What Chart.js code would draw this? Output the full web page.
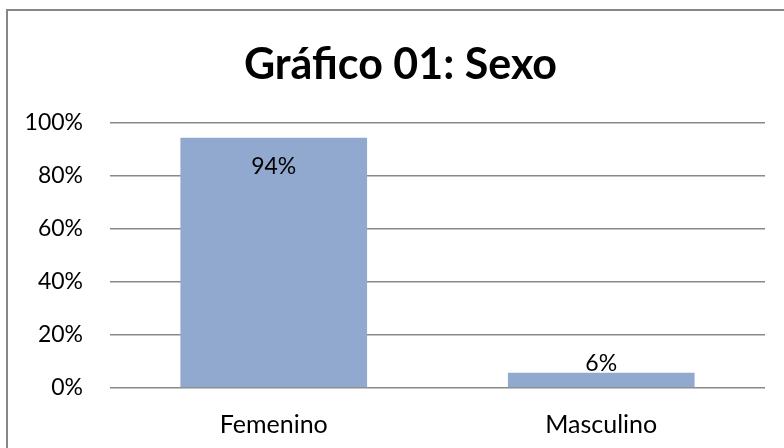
<!DOCTYPE html>
<html>
<head>
<meta charset="utf-8">
<script src="https://cdn.jsdelivr.net/npm/chart.js@4"></script>
<style>
    html, body { margin: 0; padding: 0; background: #fff; overflow: hidden; }
    #wrap { position: relative; width: 784px; height: 448px; }
    #frame {
        position: absolute; left: 6px; top: 9px; width: 900px; height: 600px;
        border-top: 2px solid #878787; border-left: 2px solid #878787;
        pointer-events: none;
    }
    canvas { position: absolute; left: 0; top: 0; }
</style>
</head>
<body>
<div id="wrap">
    <canvas id="sexoChart" width="784" height="448"></canvas>
    <div id="frame"></div>
</div>
<script>
// Chart data
const categories = ['Femenino', 'Masculino'];
const percentValues = [94.3, 5.7];
const yTicks = [0, 20, 40, 60, 80, 100];

const FONT = 'Lato, "Open Sans", sans-serif';

// Draws the % labels on the bars (inside the bar if it would not fit above)
const barLabels = {
    id: 'barLabels',
    afterDatasetsDraw(chart) {
        const ctx = chart.ctx;
        const meta = chart.getDatasetMeta(0);
        ctx.save();
        ctx.font = '23px ' + FONT;
        ctx.fillStyle = '#000';
        ctx.textAlign = 'center';
        ctx.textBaseline = 'middle';
        meta.data.forEach((bar, i) => {
            const text = Math.round(percentValues[i]) + '%';
            let y = bar.y - 9;
            if (y - 12 < chart.chartArea.top) {
                y = bar.y + 29;
            }
            ctx.fillText(text, bar.x, y);
        });
        ctx.restore();
    }
};

// The original frame is a bit wider than the picture, so the title sits right of centre
const shiftTitle = {
    id: 'shiftTitle',
    afterLayout(chart) {
        const t = chart.titleBlock;
        if (t) { t.left += 18; t.right += 18; }
    }
};

const ctx = document.getElementById('sexoChart').getContext('2d');
new Chart(ctx, {
    type: 'bar',
    data: {
        labels: categories,
        datasets: [{
            data: percentValues,
            backgroundColor: '#91a9cf',
            borderWidth: 0,
            categoryPercentage: 1,
            barPercentage: 0.57
        }]
    },
    options: {
        responsive: false,
        animation: false,
        layout: { padding: { left: 0, right: 19, top: 39, bottom: 0 } },
        scales: {
            x: {
                grid: { display: false, drawTicks: false },
                border: { display: false },
                ticks: { color: '#000', padding: 22, font: { family: FONT, size: 25 } },
                afterFit: axis => { axis.height = 60; }
            },
            y: {
                min: 0,
                max: 100,
                afterBuildTicks: axis => { axis.ticks = yTicks.map(v => ({ value: v })); },
                afterFit: axis => { axis.width = 110; },
                grid: { color: '#898989', lineWidth: 1.5, drawTicks: false },
                border: { display: false },
                ticks: {
                    color: '#000',
                    padding: 27,
                    font: { family: FONT, size: 23 },
                    callback: v => v + '%'
                }
            }
        },
        plugins: {
            legend: { display: false },
            tooltip: { enabled: false },
            title: {
                display: true,
                text: 'Gráfico 01: Sexo',
                color: '#000',
                font: { family: FONT, size: 43, weight: 'bold' },
                padding: { top: 0, bottom: 32 }
            }
        }
    },
    plugins: [barLabels, shiftTitle]
});
</script>
</body>
</html>
